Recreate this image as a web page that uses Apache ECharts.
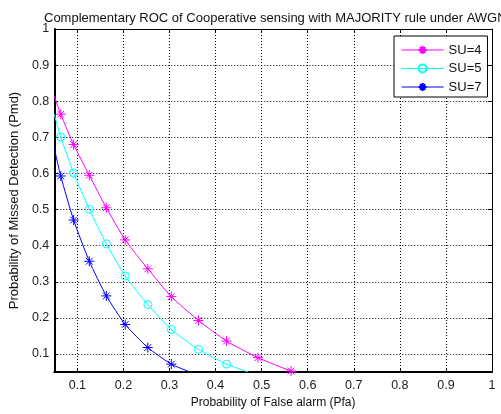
<!DOCTYPE html>
<html>
<head>
<meta charset="utf-8">
<script src="https://cdn.jsdelivr.net/npm/echarts@6/dist/echarts.min.js"></script>
<style>
  html, body { margin: 0; padding: 0; background: #fff; }
  #main { width: 501px; height: 414px; }
</style>
</head>
<body>
<div id="main"></div>
<script>
  // shared false-alarm probabilities where markers are placed
  const pfa = [0.064, 0.092, 0.126, 0.163, 0.204, 0.253, 0.304, 0.363, 0.424, 0.492, 0.564];
  // missed-detection probabilities per number of users
  const pmdSU4 = [0.764, 0.680, 0.595, 0.505, 0.416, 0.336, 0.259, 0.193, 0.136, 0.090, 0.053];
  const pmdSU5 = [0.701, 0.601, 0.501, 0.405, 0.316, 0.237, 0.168, 0.113, 0.072];
  const pmdSU7 = [0.593, 0.471, 0.357, 0.261, 0.182, 0.118, 0.072];
  // where each curve enters / leaves the visible box
  const startSU = { 'SU=4': [0.05, 0.814], 'SU=5': [0.05, 0.764], 'SU=7': [0.05, 0.670] };
  const endSU = { 'SU=4': [0.578, 0.05], 'SU=5': [0.471, 0.05], 'SU=7': [0.345, 0.05] };
  const xTicks = [0.1, 0.2, 0.3, 0.4, 0.5, 0.6, 0.7, 0.8, 0.9, 1];
  const yTicks = [0.1, 0.2, 0.3, 0.4, 0.5, 0.6, 0.7, 0.8, 0.9, 1];

  const asterisk = 'path://M0,5L10,5M5,0L5,10M1.6,1.6L8.4,8.4M8.4,1.6L1.6,8.4';

  function buildData(name, pmd) {
    let out = [{ value: startSU[name], symbol: 'none' }];
    pmd.forEach((v, i) => out.push([pfa[i], v]));
    out.push({ value: endSU[name], symbol: 'none' });
    return out;
  }

  function makeSeries(name, pmd, color, marker) {
    let isStar = marker === 'star';
    return {
      name: name,
      type: 'line',
      data: buildData(name, pmd),
      smooth: 0.2,
      symbol: isStar ? asterisk : 'circle',
      symbolSize: isStar ? 10 : 8,
      lineStyle: { color: color, width: 1 },
      itemStyle: {
        color: isStar ? color : 'rgba(0,0,0,0)',
        borderColor: color,
        borderWidth: 1
      },
      emphasis: { disabled: true },
      animation: false
    };
  }

  const tickFont = { color: '#222', fontSize: 12.5, fontFamily: 'Liberation Sans, Arial' };

  let myechart = echarts.init(document.getElementById('main'));
  let option = {
    backgroundColor: '#fff',
    animation: false,
    title: {
      text: 'Complementary ROC of Cooperative sensing with MAJORITY rule under AWGN',
      left: 39,
      top: 7,
      textStyle: { fontSize: 13, fontWeight: 'normal', color: '#111', fontFamily: 'Liberation Sans, Arial' }
    },
    legend: {
      orient: 'vertical',
      left: 394,
      top: 36,
      padding: [7.5, 6, 3.5, 7],
      itemWidth: 42,
      itemHeight: 10,
      itemGap: 5.5,
      backgroundColor: '#fff',
      borderColor: '#000',
      borderWidth: 1,
      borderRadius: 0,
      textStyle: { fontSize: 13, color: '#111', fontFamily: 'Liberation Sans, Arial' },
      data: [
        { name: 'SU=4', lineStyle: { color: '#ff00ff', width: 1.2 } },
        { name: 'SU=5', lineStyle: { color: '#00ffff', width: 1.2 } },
        { name: 'SU=7', lineStyle: { color: '#0000ff', width: 1.2 } }
      ]
    },
    grid: { left: 52, right: 9, top: 29, bottom: 40 },
    xAxis: [
      {
        type: 'value', min: 0.05, max: 1,
        name: 'Probability of False alarm (Pfa)',
        nameLocation: 'middle',
        nameGap: 22,
        nameTextStyle: { fontSize: 12, color: '#111', fontFamily: 'Liberation Sans, Arial' },
        axisLine: { lineStyle: { color: '#000', width: 2 } },
        axisTick: { inside: true, length: 4, customValues: xTicks, lineStyle: { color: '#000' } },
        axisLabel: Object.assign({ customValues: xTicks, margin: 7 }, tickFont),
        splitLine: { show: true, lineStyle: { color: '#000', type: [1, 2], width: 1 } }
      },
      {
        type: 'value', min: 0.05, max: 1, position: 'top',
        axisLine: { show: true, lineStyle: { color: '#000', width: 1 } },
        axisTick: { show: true, inside: true, length: 4, customValues: xTicks, lineStyle: { color: '#000' } },
        axisLabel: { show: false },
        splitLine: { show: false }
      }
    ],
    yAxis: [
      {
        type: 'value', min: 0.05, max: 1,
        name: 'Probability of Missed Detection (Pmd)',
        nameLocation: 'middle',
        nameGap: 29,
        nameTextStyle: { fontSize: 13, color: '#111', fontFamily: 'Liberation Sans, Arial' },
        axisLine: { show: true, lineStyle: { color: '#000', width: 2 } },
        axisTick: { show: true, inside: true, length: 4, customValues: yTicks, lineStyle: { color: '#000' } },
        axisLabel: Object.assign({ customValues: yTicks, margin: 5 }, tickFont),
        splitLine: { show: true, lineStyle: { color: '#000', type: [1, 2], width: 1 } }
      },
      {
        type: 'value', min: 0.05, max: 1, position: 'right',
        axisLine: { show: true, lineStyle: { color: '#000', width: 1 } },
        axisTick: { show: true, inside: true, length: 4, customValues: yTicks, lineStyle: { color: '#000' } },
        axisLabel: { show: false },
        splitLine: { show: false }
      }
    ],
    series: [
      makeSeries('SU=4', pmdSU4, '#ff00ff', 'star'),
      makeSeries('SU=5', pmdSU5, '#00ffff', 'circle'),
      makeSeries('SU=7', pmdSU7, '#0000ff', 'star')
    ]
  };
  myechart.setOption(option);
</script>
</body>
</html>
